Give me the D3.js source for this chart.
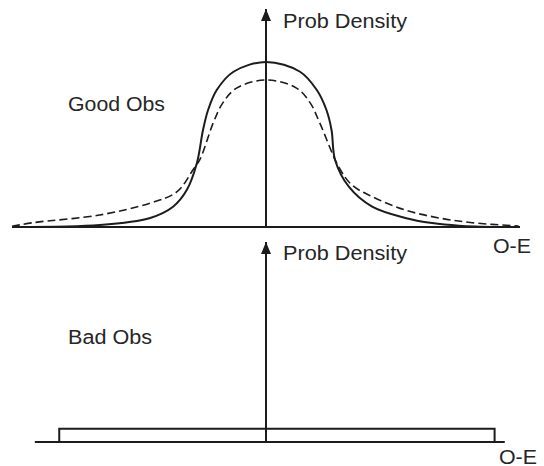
<!DOCTYPE html>
<html><head><meta charset="utf-8">
<script src="https://cdn.jsdelivr.net/npm/d3@7"></script>
<style>html,body{margin:0;padding:0;background:#fff;}svg{display:block;}</style>
</head><body>
<script>
// ---- data (O-E in arbitrary units, probability density in arbitrary units) ----
const goodSolidX = [-5.0,-3.27,-2.28,-1.83,-1.56,-1.36,-1.24,-1.14,-0.97,-0.64,0,0.67,1.0,1.19,1.29,1.36,1.63,2.09,2.74,3.27,3.80,4.6];
const goodSolidY = [0,0.012,0.055,0.123,0.224,0.388,0.588,0.709,0.83,0.941,1.0,0.941,0.83,0.709,0.588,0.406,0.244,0.123,0.055,0.024,0.008,0];
const goodDashX = [-5.0,-4.59,-3.27,-2.28,-1.75,-1.44,-1.30,-1.04,-0.85,-0.58,0,0.60,0.87,1.06,1.43,1.69,2.09,2.74,3.40,4.06,4.97];
const goodDashY = [0.004,0.026,0.073,0.145,0.214,0.345,0.41,0.63,0.752,0.842,0.891,0.842,0.752,0.63,0.365,0.255,0.184,0.103,0.055,0.026,0.006];
const badRectX = [-4.07, 4.5];
const badRectY = [0.08];
const topAxisX = [-5.0, 5.0];
const botAxisX = [-4.55, 4.7];
const panelLabels = ["Good Obs", "Bad Obs"];
const yAxisLabel = "Prob Density";
const xAxisLabel = "O-E";

const W = 544, H = 466;
const svg = d3.select("body").append("svg").attr("width", W).attr("height", H);
const ink = "#1c1c1c";
const font = "'Liberation Sans', Arial, Helvetica, sans-serif";

const x = d3.scaleLinear().domain([-5, 5]).range([12, 520]);
const yTop = d3.scaleLinear().domain([0, 1]).range([227, 62]);
const yBot = d3.scaleLinear().domain([0, 1]).range([442, 277]);

// arrow marker
svg.append("defs").append("marker")
  .attr("id", "arr").attr("viewBox", "0 0 10 12").attr("refX", 5).attr("refY", 0)
  .attr("markerWidth", 10).attr("markerHeight", 12).attr("markerUnits", "userSpaceOnUse")
  .attr("orient", "0")
  .append("path").attr("d", "M0,12 L5,0 L10,12 Z").attr("fill", ink);

function panel(y, axisX, yTipPx, baseY) {
  const g = svg.append("g");
  g.append("line").attr("x1", x(axisX[0])).attr("x2", x(axisX[1]))
    .attr("y1", y(0)).attr("y2", y(0)).attr("stroke", ink).attr("stroke-width", 2);
  g.append("line").attr("x1", x(0)).attr("x2", x(0))
    .attr("y1", y(0)).attr("y2", yTipPx + 2).attr("stroke", ink).attr("stroke-width", 2)
    .attr("marker-end", "url(#arr)");
  return g;
}

// top panel
const gTop = panel(yTop, topAxisX, 7);
const line = d3.line().curve(d3.curveCatmullRom.alpha(0.5));
gTop.append("path")
  .attr("d", line(goodDashX.map((v, i) => [x(v), yTop(goodDashY[i])])))
  .attr("fill", "none").attr("stroke", ink).attr("stroke-width", 1.6)
  .attr("stroke-dasharray", "8,4");
gTop.append("path")
  .attr("d", line(goodSolidX.map((v, i) => [x(v), yTop(goodSolidY[i])])))
  .attr("fill", "none").attr("stroke", ink).attr("stroke-width", 2);

// bottom panel
const gBot = panel(yBot, botAxisX, 240);
gBot.append("path")
  .attr("d", d3.line()([[x(badRectX[0]), yBot(0)], [x(badRectX[0]), yBot(badRectY[0])],
                        [x(badRectX[1]), yBot(badRectY[0])], [x(badRectX[1]), yBot(0)]]))
  .attr("fill", "none").attr("stroke", ink).attr("stroke-width", 2);

// texts
function txt(s, px, py, w) {
  svg.append("text").attr("x", px).attr("y", py).text(s)
    .attr("font-family", font).attr("font-size", 19.5).attr("fill", "#262626")
    .attr("textLength", w).attr("lengthAdjust", "spacingAndGlyphs");
}
txt(yAxisLabel, 283, 28, 124);
txt(panelLabels[0], 68, 111, 97);
txt(xAxisLabel, 493, 253, 38);
txt(yAxisLabel, 283, 260, 124);
txt(panelLabels[1], 68, 344, 84);
txt(xAxisLabel, 499, 464, 38);
</script>
</body></html>
